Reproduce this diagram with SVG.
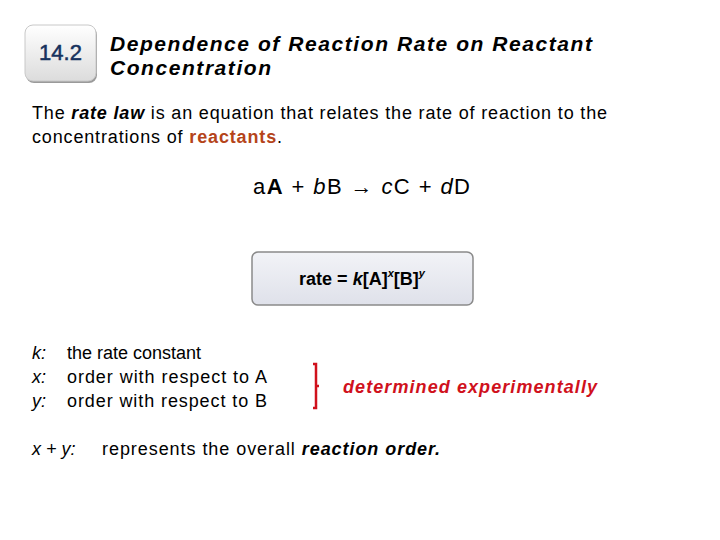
<svg xmlns="http://www.w3.org/2000/svg" width="720" height="540" viewBox="0 0 720 540">
<defs>
<linearGradient id="bg1" x1="0" y1="0" x2="0" y2="1"><stop offset="0" stop-color="#ffffff"/><stop offset="1" stop-color="#dcdcdc"/></linearGradient>
<linearGradient id="bg2" x1="0" y1="0" x2="0" y2="1"><stop offset="0" stop-color="#f2f3f7"/><stop offset="1" stop-color="#dfe1ea"/></linearGradient>
</defs>
<style>
text{font-family:"Liberation Sans",Arial,sans-serif;fill:#000}
.b{font-size:18px}
.r{fill:#b5441a;font-weight:bold}
</style>
<rect width="720" height="540" fill="#fff"/>
<g id="badge">
<rect x="25" y="25" width="71" height="56" rx="8" fill="#9a9a9a" transform="translate(1,2)"/>
<rect x="25" y="25" width="71" height="56" rx="8" fill="url(#bg1)" stroke="#c8c8c8"/>
<text x="60.5" y="60" text-anchor="middle" font-size="22" style="fill:#17325e;stroke:#17325e;stroke-width:0.5">14.2</text>
</g>
<g id="title">
<text x="110" y="51" font-size="21" font-style="italic" font-weight="bold" textLength="482" lengthAdjust="spacing">Dependence of Reaction Rate on Reactant</text>
<text x="110" y="75" font-size="21" font-style="italic" font-weight="bold" textLength="161" lengthAdjust="spacing">Concentration</text>
</g>
<text x="32" y="119" class="b" textLength="575" lengthAdjust="spacing">The <tspan font-weight="bold" font-style="italic">rate law</tspan> is an equation that relates the rate of reaction to the</text>
<text x="32" y="143" class="b" textLength="250" lengthAdjust="spacing">concentrations of <tspan class="r">reactants</tspan>.</text>
<text x="253" y="194" font-size="22" textLength="217" lengthAdjust="spacing">a<tspan font-weight="bold">A</tspan> + <tspan font-style="italic">b</tspan>B → <tspan font-style="italic">c</tspan>C + <tspan font-style="italic">d</tspan>D</text>
<g id="ratebox">
<rect x="252" y="252" width="221" height="53" rx="6" fill="url(#bg2)" stroke="#8a8a8a" stroke-width="1.5"/>
<text x="362" y="285" text-anchor="middle" font-size="18" font-weight="bold">rate = <tspan font-style="italic">k</tspan>[A]<tspan font-size="11" dy="-8" font-style="italic">x</tspan><tspan dy="8">[B]</tspan><tspan font-size="11" dy="-8" font-style="italic">y</tspan></text>
</g>
<g class="b">
<text x="32" y="359" class="b" font-style="italic">k:</text>
<text x="67" y="359" class="b">the rate constant</text>
<text x="32" y="383" class="b" font-style="italic">x:</text>
<text x="67" y="383" class="b" textLength="200" lengthAdjust="spacing">order with respect to A</text>
<text x="32" y="407" class="b" font-style="italic">y:</text>
<text x="67" y="407" class="b" textLength="200" lengthAdjust="spacing">order with respect to B</text>
</g>
<path d="M313 364 H316 V408 H313 M316 386 H319" fill="none" stroke="#d0111c" stroke-width="2.5"/>
<text x="343" y="393" font-size="18" font-weight="bold" font-style="italic" style="fill:#d0111c" textLength="254" lengthAdjust="spacing">determined experimentally</text>
<text x="32" y="455" class="b" font-style="italic">x + y:</text>
<text x="102" y="455" class="b" textLength="338" lengthAdjust="spacing">represents the overall <tspan font-weight="bold" font-style="italic">reaction order.</tspan></text>
</svg>
